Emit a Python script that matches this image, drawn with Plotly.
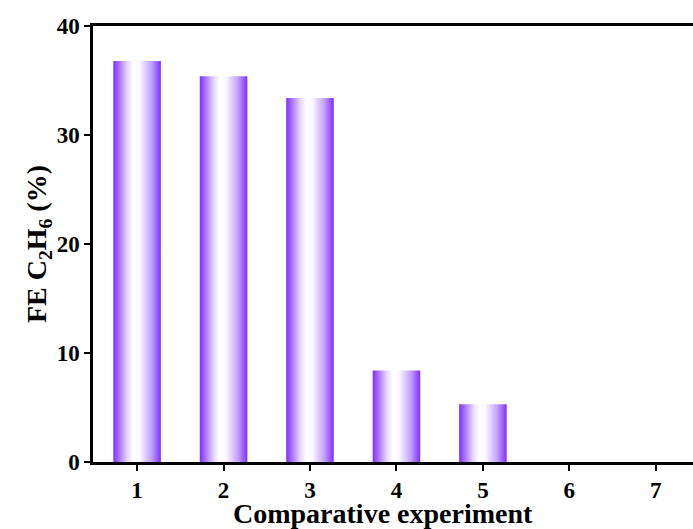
import plotly.graph_objects as go

# Faradaic efficiency of C2H6 for each comparative experiment
experiments = [1, 2, 3, 4, 5, 6, 7]
fe_c2h6 = [36.8, 35.4, 33.4, 8.4, 5.3, 0.0, 0.0]
y_ticks = [0, 10, 20, 30, 40]

BAR_WIDTH = 0.55
PURPLE = "#7f2fff"
gradient = [
    [0.0, PURPLE],
    [0.3, "#e6d8ff"],
    [0.42, "#ffffff"],
    [0.55, "#fbf8ff"],
    [0.8, "#c4a2ff"],
    [1.0, PURPLE],
]
FONT = "Liberation Serif, Times New Roman, serif"

fig = go.Figure()

# Each bar is a filled rectangle so it can carry a horizontal colour gradient
for x, v in zip(experiments, fe_c2h6):
    if v <= 0:
        continue
    x0, x1 = x - BAR_WIDTH / 2, x + BAR_WIDTH / 2
    fig.add_trace(go.Scatter(
        x=[x0, x0, x1, x1, x0],
        y=[0, v, v, 0, 0],
        mode="lines",
        line=dict(width=0),
        fill="toself",
        fillgradient=dict(type="horizontal", colorscale=gradient),
        hoverinfo="text",
        text=f"{x}: {v}%",
        showlegend=False,
    ))

axis_common = dict(
    showgrid=False,
    zeroline=False,
    showline=True,
    linecolor="black",
    linewidth=2.5,
    ticks="outside",
    tickcolor="black",
    tickwidth=2,
    ticklen=6,
    tickfont=dict(family=FONT, size=23, color="black", weight="bold"),
)

title_font = dict(family=FONT, size=28, color="black", weight="bold")

fig.update_layout(
    width=693,
    height=529,
    margin=dict(l=93, r=0, t=26, b=67),
    plot_bgcolor="white",
    paper_bgcolor="white",
    xaxis=dict(
        **axis_common,
        range=[0.49, 7.43],
        tickmode="array",
        tickvals=experiments,
        ticktext=[str(e) for e in experiments],
        mirror=True,
    ),
    yaxis=dict(
        **axis_common,
        range=[0, 40],
        tickmode="array",
        tickvals=y_ticks,
        title=dict(text="FE C<sub>2</sub>H<sub>6</sub> (%)", font=title_font, standoff=2),
    ),
    annotations=[
        dict(
            text="Comparative experiment",
            xref="paper", yref="paper",
            x=0.483, y=-0.118,
            xanchor="center", yanchor="middle",
            showarrow=False,
            font=title_font,
        )
    ],
)

fig.write_html("out.html")
